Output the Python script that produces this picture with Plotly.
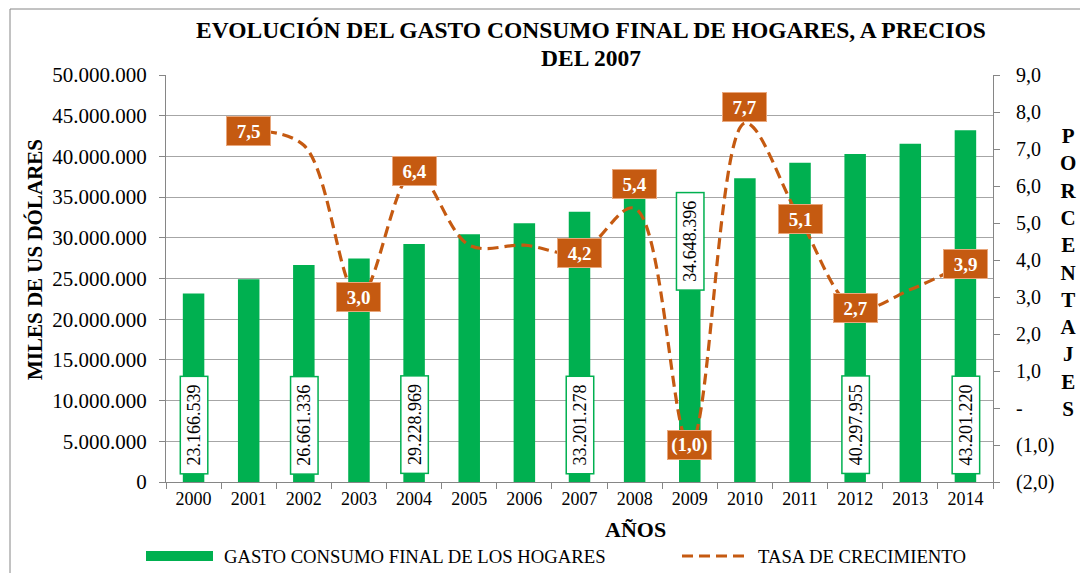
import plotly.graph_objects as go

# ---------------- data ----------------
years = [str(y) for y in range(2000, 2015)]
gasto = [23166539, 24900000, 26661336, 27450000, 29228969, 30450000, 31800000,
         33201278, 34990000, 34648396, 37320000, 39220000, 40297955, 41550000, 43201220]
tasa_years = years[1:]
tasa = [7.5, 7.1, 3.0, 6.4, 4.4, 4.4, 4.2, 5.4, -1.0, 7.7, 5.1, 2.7, 3.2, 3.9]

left_tickvals = list(range(0, 50000001, 5000000))
right_tickvals = [9, 8, 7, 6, 5, 4, 3, 2, 1, 0, -1, -2]

labeled_bar_years = ["2000", "2002", "2004", "2007", "2009", "2012", "2014"]
labeled_tasa_years = ["2001", "2003", "2004", "2007", "2008", "2009", "2010", "2011", "2012", "2014"]

title_lines = ["EVOLUCIÓN DEL GASTO CONSUMO FINAL DE HOGARES, A PRECIOS", "DEL 2007"]
left_title = "MILES DE US DÓLARES"
right_title = "PORCENTAJES"
x_title = "AÑOS"
bar_name = "GASTO CONSUMO FINAL DE LOS HOGARES"
line_name = "TASA DE CRECIMIENTO"

# ---------------- styling / layout constants ----------------
FONT = "Liberation Serif"
GREEN = "#00B050"
ORANGE = "#C55A11"
AXIS_GRAY = "#868686"
GRID_GRAY = "#A6A6A6"
W, H = 1080, 573
L, R, T, B = 166, 87, 75, 91
PW, PH = W - L - R, H - T - B

def px(xp):
    return (xp - L) / PW

def py(yp):
    return (H - B - yp) / PH

def fmt_miles(v):
    return f"{v:,.0f}".replace(",", ".")

def fmt_pct(v):
    if v == 0:
        return "-"
    s = f"{abs(v):.1f}".replace(".", ",")
    return f"({s})" if v < 0 else s

BAR_LABEL_Y_DEFAULT = 7.0e6
BAR_LABEL_Y_OVERRIDE = {"2009": 29.6e6}
TASA_LABEL_YSHIFT = {"2008": 24, "2010": 16}
TITLE_LINE_Y = [30, 58]

fig = go.Figure()

fig.add_trace(go.Bar(
    x=years, y=gasto, name=bar_name, marker=dict(color=GREEN, line=dict(width=0)),
    width=0.39, yaxis="y", showlegend=False,
))
fig.add_trace(go.Scatter(
    x=tasa_years, y=tasa, name=line_name, mode="lines", yaxis="y2",
    line=dict(color=ORANGE, width=3.2, dash="11px,6px", shape="spline", smoothing=1.0),
    showlegend=False,
))

annotations = []
# title lines
for line, ty in zip(title_lines, TITLE_LINE_Y):
    annotations.append(dict(
        x=px(591), y=py(ty), xref="paper", yref="paper", xanchor="center", yanchor="middle",
        text="<b>" + line + "</b>", showarrow=False,
        font=dict(family=FONT, size=23.5, color="black"),
    ))
# bar value labels
for yr in labeled_bar_years:
    i = years.index(yr)
    annotations.append(dict(
        x=i, y=BAR_LABEL_Y_OVERRIDE.get(yr, BAR_LABEL_Y_DEFAULT), xref="x", yref="y",
        xanchor="center", yanchor="middle",
        text=fmt_miles(gasto[i]), textangle=-90, showarrow=False,
        font=dict(family=FONT, size=18, color="black"),
        bgcolor="white", bordercolor=GREEN, borderwidth=1.5, borderpad=1,
        width=94, height=24,
    ))
# growth labels
for yr in labeled_tasa_years:
    i = tasa_years.index(yr)
    annotations.append(dict(
        x=years.index(yr), y=tasa[i], xref="x", yref="y2",
        xanchor="center", yanchor="middle",
        text="<b>" + fmt_pct(tasa[i]) + "</b>", showarrow=False,
        yshift=TASA_LABEL_YSHIFT.get(yr, 0),
        font=dict(family=FONT, size=19, color="white"),
        bgcolor=ORANGE, bordercolor="#E9A77C", borderwidth=1, borderpad=1,
        width=41, height=26,
    ))
# axis titles
annotations.append(dict(
    x=px(35), y=py(260), xref="paper", yref="paper", text="<b>" + left_title + "</b>",
    xanchor="center", yanchor="middle",
    textangle=-90, showarrow=False, font=dict(family=FONT, size=21, color="black"),
))
annotations.append(dict(
    x=px(1068), y=py(272), xref="paper", yref="paper",
    xanchor="center", yanchor="middle",
    text="<b>" + "<br>".join(list(right_title)) + "</b>",
    showarrow=False, font=dict(family=FONT, size=21, color="black"),
))
annotations.append(dict(
    x=px(635), y=py(529), xref="paper", yref="paper", text="<b>" + x_title + "</b>",
    xanchor="center", yanchor="middle",
    showarrow=False, font=dict(family=FONT, size=22, color="black"),
))
# legend texts
annotations.append(dict(
    x=px(222), y=py(556), xref="paper", yref="paper", text=bar_name,
    xanchor="left", yanchor="middle",
    showarrow=False, font=dict(family=FONT, size=18.7, color="black"),
))
annotations.append(dict(
    x=px(756), y=py(556), xref="paper", yref="paper", text=line_name,
    xanchor="left", yanchor="middle",
    showarrow=False, font=dict(family=FONT, size=18.7, color="black"),
))

shapes = [
    # outer frame
    dict(type="rect", xref="paper", yref="paper", x0=px(10), x1=px(1100), y0=py(9), y1=py(600),
         line=dict(color=AXIS_GRAY, width=1), fillcolor="rgba(0,0,0,0)", layer="below"),
    # legend swatches
    dict(type="rect", xref="paper", yref="paper", x0=px(146), x1=px(213), y0=py(561), y1=py(551),
         line=dict(width=0), fillcolor=GREEN),
    dict(type="line", xref="paper", yref="paper", x0=px(682), x1=px(750), y0=py(556), y1=py(556),
         line=dict(color=ORANGE, width=3.2, dash="11px,6px")),
]

fig.update_layout(
    width=W, height=H,
    margin=dict(l=L, r=R, t=T, b=B),
    paper_bgcolor="white", plot_bgcolor="white",
    font=dict(family=FONT, color="black"),
    xaxis=dict(type="category", range=[-0.5, 14.5], tickson="boundaries", ticks="outside",
               ticklen=6, tickcolor=AXIS_GRAY, showline=True, linecolor=AXIS_GRAY, linewidth=1,
               showgrid=False, tickfont=dict(family=FONT, size=18, color="black")),
    yaxis=dict(range=[0, 50e6], tickvals=left_tickvals,
               ticktext=[fmt_miles(v) for v in left_tickvals],
               showgrid=True, gridcolor=GRID_GRAY, gridwidth=1, zeroline=False,
               showline=True, linecolor=AXIS_GRAY, ticks="outside", ticklen=6, tickcolor=AXIS_GRAY,
               ticklabelstandoff=8, tickfont=dict(family=FONT, size=21, color="black")),
    yaxis2=dict(range=[-2, 9], tickvals=right_tickvals,
                ticktext=[fmt_pct(v) for v in right_tickvals],
                overlaying="y", side="right", showgrid=False, zeroline=False,
                showline=True, linecolor=AXIS_GRAY, ticks="outside", ticklen=6, tickcolor=AXIS_GRAY,
                ticklabelstandoff=12, tickfont=dict(family=FONT, size=20, color="black")),
    annotations=annotations,
    shapes=shapes,
    showlegend=False,
)

fig.write_html("out.html", config={"displayModeBar": False},
               post_script="document.body.style.margin='0';")
